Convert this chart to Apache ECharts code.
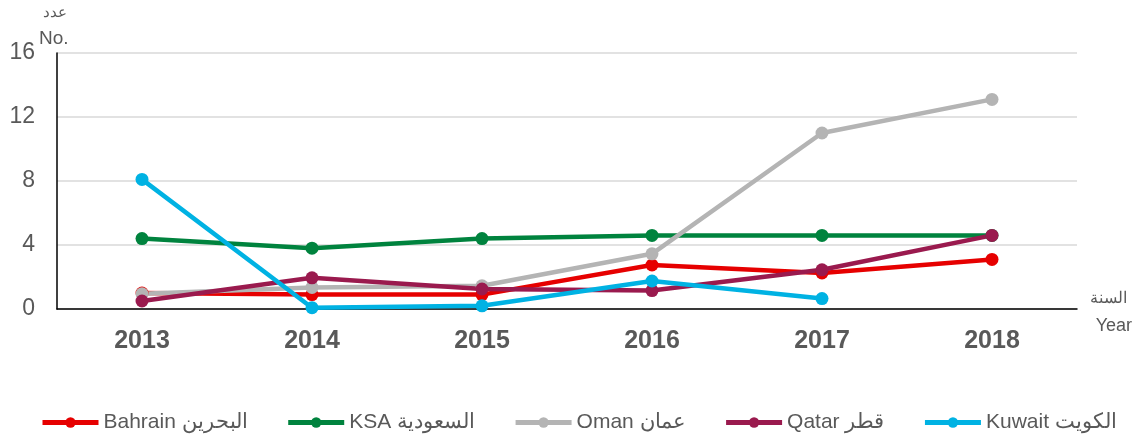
<!DOCTYPE html>
<html><head><meta charset="utf-8">
<script src="https://cdn.jsdelivr.net/npm/echarts@6/dist/echarts.min.js"></script>
<style>html,body{margin:0;padding:0;background:#fff}#c{width:1141px;height:437px}</style>
</head><body><div id="c"></div>
<script>
const years = ['2013','2014','2015','2016','2017','2018'];
const yTicks = {min:0, max:16, interval:4};
const bahrain = [1.0, 0.9, 0.9, 2.75, 2.25, 3.1];
const ksa = [4.4, 3.8, 4.4, 4.6, 4.6, 4.6];
const oman = [0.95, 1.35, 1.45, 3.45, 11.0, 13.1];
const qatar = [0.5, 1.95, 1.25, 1.15, 2.45, 4.6];
const kuwait = [8.1, 0.08, 0.2, 1.75, 0.65, null];
const names = ['Bahrain البحرين','KSA السعودية','Oman عمان','Qatar قطر','Kuwait الكويت'];
const colors = ['#E60000','#00833E','#B4B4B4','#9A1A4E','#00B2E3'];
const datas = [bahrain, ksa, oman, qatar, kuwait];
const font = '"Liberation Sans", Arial, sans-serif';
const chart = echarts.init(document.getElementById('c'));
chart.setOption({
  animation:false,
  color: colors,
  grid:{left:57, right:64, top:53, bottom:128},
  legend:{
    top:412, left:40, padding:0, itemWidth:56, itemHeight:13, itemGap:38,
    lineStyle:{width:5},
    textStyle:{fontSize:21, color:'#595959', fontFamily:font},
    data:names
  },
  xAxis:{
    type:'category', data:years, boundaryGap:true,
    axisLine:{lineStyle:{color:'#000', width:1.5}},
    axisTick:{show:false},
    axisLabel:{fontSize:25, fontWeight:'bold', color:'#595959', margin:20, fontFamily:font}
  },
  yAxis:{
    type:'value', min:yTicks.min, max:yTicks.max, interval:yTicks.interval,
    axisLine:{show:true, lineStyle:{color:'#000', width:1.5}},
    axisTick:{show:false},
    splitLine:{lineStyle:{color:'#D9D9D9', width:1.5}},
    axisLabel:{fontSize:23, color:'#595959', margin:22, fontFamily:font}
  },
  graphic:[
    {type:'text', left:43, top:5, style:{text:'عدد', fontSize:15, fill:'#595959', fontFamily:font}},
    {type:'text', left:39, top:29, style:{text:'No.', fontSize:19, fill:'#595959', fontFamily:font}},
    {type:'text', right:14, top:291, style:{text:'السنة', fontSize:16, fill:'#595959', fontFamily:font}},
    {type:'text', right:9, top:317, style:{text:'Year', fontSize:18, fill:'#595959', fontFamily:font}}
  ],
  series: datas.map((d,i)=>({
    name:names[i], type:'line', data:d,
    symbol:'circle', symbolSize:13,
    lineStyle:{width:4.5, color:colors[i]},
    itemStyle:{color:colors[i]},
    connectNulls:false
  }))
});
</script></body></html>
